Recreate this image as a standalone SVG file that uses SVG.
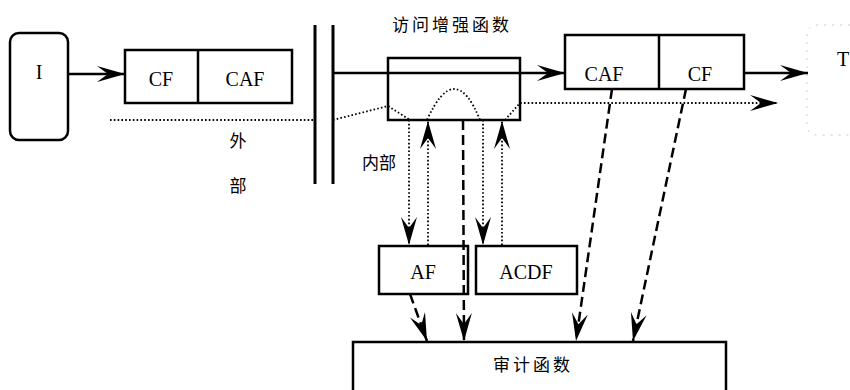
<svg xmlns="http://www.w3.org/2000/svg" width="850" height="390" viewBox="0 0 850 390">
<defs>
<marker id="ah" viewBox="-30 -10 32 20" refX="0" refY="0" markerWidth="32" markerHeight="20" markerUnits="userSpaceOnUse" orient="auto">
<path d="M0,0 L-28,-8 L-17,0 L-28,8 Z" fill="#000"/>
</marker>
</defs>
<style>
.box{fill:#fff;stroke:#000;stroke-width:2.5}
.lat{font-family:"Liberation Serif","Times New Roman",serif;font-size:20px;fill:#000;text-anchor:middle}
.cjk{font-family:"Noto Sans CJK SC","Noto Sans CJK JP",sans-serif;font-size:17px;fill:#000;text-anchor:middle}
.solid{fill:none;stroke:#000;stroke-width:2.5}
.dash{fill:none;stroke:#000;stroke-width:2.5;stroke-dasharray:10 5}
.dot{fill:none;stroke:#000;stroke-width:1.8;stroke-dasharray:1.6 2.2}
.wall{fill:none;stroke:#000;stroke-width:3}
</style>
<rect width="850" height="390" fill="#fff"/>
<g id="node-I">
<rect class="box" x="10" y="33" width="58" height="107" rx="9"/>
<text class="lat" x="39" y="79">I</text>
</g>
<g id="node-cf-caf-out">
<rect class="box" x="125" y="50" width="167" height="53"/>
<line class="solid" x1="198" y1="50" x2="198" y2="103"/>
<text class="lat" x="161" y="86">CF</text>
<text class="lat" x="245" y="86">CAF</text>
</g>
<g id="label-outside">
<text class="cjk" x="238" y="147">外</text>
<text class="cjk" x="238" y="192">部</text>
</g>
<g id="node-wall">
<line class="wall" x1="315" y1="25" x2="315" y2="184"/>
<line class="wall" x1="333" y1="25" x2="333" y2="184"/>
</g>
<g id="node-enhance">
<text class="cjk" x="452" y="31" letter-spacing="3">访问增强函数</text>
<rect class="box" x="388" y="58" width="132" height="62"/>
</g>
<g id="label-inside">
<text class="cjk" x="379" y="169">内部</text>
</g>
<g id="node-AF">
<rect class="box" x="379" y="246" width="89" height="48"/>
<text class="lat" x="423" y="279">AF</text>
</g>
<g id="node-ACDF">
<rect class="box" x="476" y="246" width="101" height="48"/>
<text class="lat" x="526" y="279">ACDF</text>
</g>
<g id="node-audit">
<path class="solid" d="M353,400 L353,342 L726,342 L726,400"/>
<text class="cjk" x="533" y="371" letter-spacing="3">审计函数</text>
</g>
<g id="node-caf-cf-in">
<rect class="box" x="565" y="35" width="179" height="54"/>
<line class="solid" x1="659" y1="35" x2="659" y2="89"/>
<text class="lat" x="604" y="81">CAF</text>
<text class="lat" x="700" y="81">CF</text>
</g>
<g id="node-T">
<path d="M850,25 L818,25 Q807,25 807,36 L807,124 Q807,135 818,135 L850,135" fill="none" stroke="#ccc" stroke-width="1" stroke-dasharray="2 6"/>
<text class="lat" x="843" y="66">T</text>
</g>
<g id="connectors">
<line class="solid" x1="68" y1="74" x2="125" y2="74" marker-end="url(#ah)"/>
<line class="solid" x1="333" y1="73" x2="565" y2="73" marker-end="url(#ah)"/>
<line class="solid" x1="744" y1="73" x2="808" y2="73" marker-end="url(#ah)"/>
<line class="dot" x1="110" y1="120" x2="315" y2="120"/>
<polyline class="dot" points="333,120 388,106 410,120"/>
<path class="dot" d="M427,120 Q455,58 480,120"/>
<polyline class="dot" points="505,120 520,103 778,103" marker-end="url(#ah)"/>
<line class="dot" x1="409" y1="120" x2="409" y2="245" marker-end="url(#ah)"/>
<line class="dot" x1="428" y1="245" x2="428" y2="121" marker-end="url(#ah)"/>
<line class="dot" x1="483" y1="120" x2="483" y2="245" marker-end="url(#ah)"/>
<line class="dot" x1="502" y1="245" x2="502" y2="121" marker-end="url(#ah)"/>
<line class="dash" x1="463" y1="120" x2="464" y2="341" marker-end="url(#ah)"/>
<line class="dash" x1="410" y1="294" x2="427" y2="341" marker-end="url(#ah)"/>
<line class="dash" x1="612" y1="89" x2="576" y2="341" marker-end="url(#ah)"/>
<line class="dash" x1="686" y1="89" x2="633" y2="341" marker-end="url(#ah)"/>
</g>
</svg>
